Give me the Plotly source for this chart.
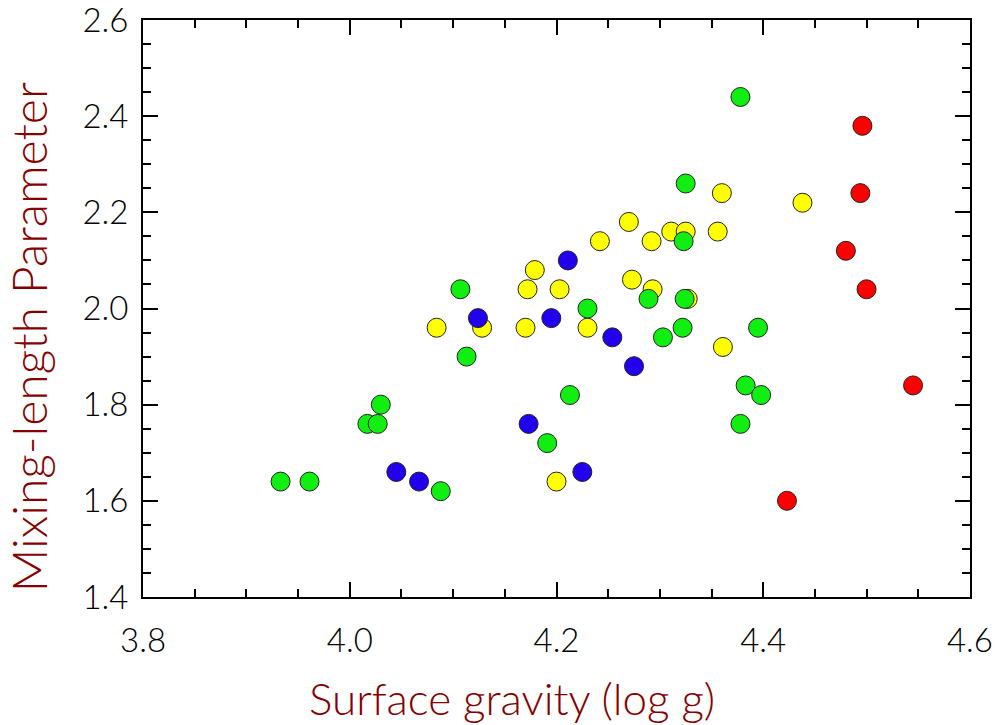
import plotly.graph_objects as go

# Surface gravity (log g) and mixing-length parameter, grouped by colour class
green_logg = [3.933, 3.961, 4.017, 4.027, 4.030, 4.088, 4.107, 4.113, 4.191, 4.213,
              4.230, 4.289, 4.303, 4.322, 4.324, 4.323, 4.325, 4.378, 4.395, 4.383,
              4.398, 4.378]
green_alpha = [1.64, 1.64, 1.76, 1.76, 1.80, 1.62, 2.04, 1.90, 1.72, 1.82,
               2.00, 2.02, 1.94, 1.96, 2.02, 2.14, 2.26, 2.44, 1.96, 1.84,
               1.82, 1.76]

yellow_logg = [4.084, 4.128, 4.179, 4.172, 4.203, 4.170, 4.230, 4.242, 4.270, 4.292,
               4.311, 4.325, 4.356, 4.360, 4.273, 4.293, 4.361, 4.327, 4.438, 4.200]
yellow_alpha = [1.96, 1.96, 2.08, 2.04, 2.04, 1.96, 1.96, 2.14, 2.18, 2.14,
                2.16, 2.16, 2.16, 2.24, 2.06, 2.04, 1.92, 2.02, 2.22, 1.64]

blue_logg = [4.045, 4.067, 4.124, 4.211, 4.195, 4.254, 4.275, 4.173, 4.225]
blue_alpha = [1.66, 1.64, 1.98, 2.10, 1.98, 1.94, 1.88, 1.76, 1.66]

red_logg = [4.496, 4.494, 4.480, 4.500, 4.545, 4.423]
red_alpha = [2.38, 2.24, 2.12, 2.04, 1.84, 1.60]

x_ticks = [3.8, 4.0, 4.2, 4.4, 4.6]
x_tick_text = ["3.8", "4.0", "4.2", "4.4", "4.6"]
y_ticks = [1.4, 1.6, 1.8, 2.0, 2.2, 2.4, 2.6]
y_tick_text = ["1.4", "1.6", "1.8", "2.0", "2.2", "2.4", "2.6"]

TITLE_COLOR = "#850000"
FONT = "Lato"

groups = [
    (yellow_logg, yellow_alpha, "#ffff00"),
    (green_logg, green_alpha, "#11ee11"),
    (blue_logg, blue_alpha, "#2200ee"),
    (red_logg, red_alpha, "#ff0000"),
]

fig = go.Figure()
for xs, ys, color in groups:
    fig.add_trace(go.Scatter(
        x=xs, y=ys, mode="markers",
        marker=dict(size=19, color=color, line=dict(color="#222222", width=1)),
        showlegend=False,
    ))

axis_common = dict(
    showgrid=False, zeroline=False, showline=True, linecolor="black", linewidth=2,
    mirror="ticks", ticks="inside", ticklen=15, tickwidth=2, tickcolor="black",
    tickfont=dict(family=FONT, size=33, color="black", weight=300),
    ticklabeloverflow="allow", automargin=False,
    minor=dict(ticks="inside", ticklen=8, tickwidth=2, tickcolor="black", dtick=0.05),
)

fig.update_xaxes(range=[3.7999, 4.6001], tickvals=x_ticks, ticktext=x_tick_text,
                 ticklabelstandoff=13, **axis_common)
fig.update_yaxes(range=[1.3999, 2.6001], tickvals=y_ticks, ticktext=y_tick_text,
                 ticklabelstandoff=6, **axis_common)

fig.add_annotation(text="Surface gravity (log g)", xref="paper", yref="paper",
                   x=0.446, y=-0.126, xanchor="center", yanchor="top", showarrow=False,
                   font=dict(family=FONT, size=44, color=TITLE_COLOR, weight=300))
fig.add_annotation(text="Mixing-length Parameter", xref="paper", yref="paper",
                   x=-0.175, y=0.45, xanchor="left", yanchor="middle", showarrow=False,
                   textangle=-90, font=dict(family=FONT, size=48, color=TITLE_COLOR,
                                            weight=300))

fig.update_layout(
    width=999, height=725,
    margin=dict(l=143, r=29, t=20, b=128, autoexpand=False),
    paper_bgcolor="white", plot_bgcolor="white",
)

fig.write_html("out.html")
